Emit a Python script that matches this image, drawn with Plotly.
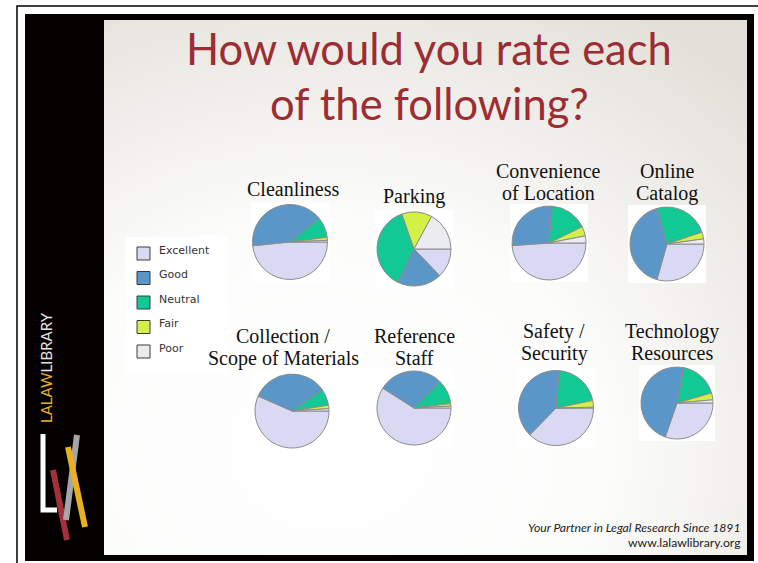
import base64
import plotly.graph_objects as go

W, H = 758, 563

# categorias e cores das fatias
categories = ["Excellent", "Good", "Neutral", "Fair", "Poor"]
colors = ["#d9d9f3", "#5b96c8", "#12c895", "#d2f046", "#ebebf0"]

cleanliness = [48.4, 40.8, 8.8, 1.3, 0.7]
parking = [12.8, 19.4, 37.5, 13.2, 17.1]
convenience = [48.9, 27.5, 16.4, 4.1, 3.1]
online_catalog = [29.4, 41.2, 24.2, 3.0, 2.2]
collection = [56.6, 33.8, 7.1, 1.5, 1.0]
reference_staff = [59.0, 28.6, 10.5, 1.1, 0.8]
safety = [37.3, 39.2, 20.3, 2.9, 0.3]
technology = [30.3, 47.8, 17.4, 3.1, 1.4]

titles = [
    ["Cleanliness"],
    ["Parking"],
    ["Convenience", "of Location"],
    ["Online", "Catalog"],
    ["Collection /", "Scope of Materials"],
    ["Reference", "Staff"],
    ["Safety /", "Security"],
    ["Technology", "Resources"],
]
series = [cleanliness, parking, convenience, online_catalog,
          collection, reference_staff, safety, technology]

# posicao em pixels: centro x, centro y, raio, x do titulo, y da primeira linha do titulo
positions = [
    (290, 242, 37.5, 293, 189),
    (414, 249, 37, 414, 196),
    (549, 243, 37, 548, 171),
    (667, 244, 37, 667, 171),
    (292, 411, 37, 283, 336),
    (414, 408, 37, 414, 336),
    (556, 408, 37.5, 554, 331),
    (677, 403, 36, 672, 331),
]

fig = go.Figure()

shapes = []
annotations = []

# caixas brancas atras das pizzas
for (cx, cy, r, tx, ty) in positions:
    shapes.append(dict(type="rect", x0=cx - r - 2, x1=cx + r + 2, y0=cy - r - 2, y1=cy + r + 2,
                       fillcolor="white", line=dict(width=0), layer="below"))

for vals, tit, (cx, cy, r, tx, ty) in zip(series, titles, positions):
    fig.add_trace(go.Pie(
        labels=categories,
        values=vals,
        domain=dict(x=[(cx - r) / W, (cx + r) / W], y=[1 - (cy + r) / H, 1 - (cy - r) / H]),
        marker=dict(colors=colors, line=dict(color="#8c8c8c", width=1)),
        sort=False,
        direction="clockwise",
        rotation=90,
        textinfo="none",
        hoverinfo="label+percent",
        showlegend=False,
    ))
    for i, linha in enumerate(tit):
        annotations.append(dict(x=tx, y=ty + i * 22, text=linha, showarrow=False,
                                xanchor="center", yanchor="middle",
                                font=dict(family="Liberation Serif", size=20, color="#111111")))

# moldura preta e barra lateral
shapes += [
    dict(type="path", path="M 17,563 L 17,6 L 758,6", line=dict(color="black", width=1.5), layer="below"),
    dict(type="rect", x0=25, x1=104, y0=14, y1=561, fillcolor="#050000", line=dict(width=0), layer="below"),
    dict(type="rect", x0=25, x1=754, y0=14, y1=20, fillcolor="#050000", line=dict(width=0), layer="below"),
    dict(type="rect", x0=747, x1=754, y0=14, y1=561, fillcolor="#050000", line=dict(width=0), layer="below"),
    dict(type="rect", x0=25, x1=754, y0=555, y1=561, fillcolor="#050000", line=dict(width=0), layer="below"),
]

# logo
shapes += [
    dict(type="path", path="M 43,434 L 43,510 L 57,510", line=dict(color="white", width=5), layer="above"),
    dict(type="line", x0=53, y0=470, x1=67, y1=540, line=dict(color="#a3303b", width=6)),
    dict(type="line", x0=77, y0=435, x1=66, y1=520, line=dict(color="#a6a6a8", width=6)),
    dict(type="line", x0=68, y0=447, x1=85, y1=527, line=dict(color="#e9b121", width=6)),
]

# legenda desenhada a mao
shapes.append(dict(type="rect", x0=125, x1=228, y0=237, y1=374, fillcolor="white",
                   line=dict(width=0), layer="below"))
for i, (cat, cor) in enumerate(zip(categories, colors)):
    y = 253 + i * 24.5
    shapes.append(dict(type="rect", x0=137, x1=150, y0=y - 6, y1=y + 7, fillcolor=cor,
                       line=dict(color="#3a3a3a", width=1)))
    annotations.append(dict(x=157, y=y - 3, text=cat, showarrow=False, xanchor="left", yanchor="middle",
                            font=dict(family="DejaVu Sans", size=11, color="#333333")))

# titulo
annotations += [
    dict(x=429, y=48, text="How would you rate each", showarrow=False, xanchor="center", yanchor="middle",
         font=dict(family="Lato", size=43.5, color="#9c2d33")),
    dict(x=429, y=103, text="of the following?", showarrow=False, xanchor="center", yanchor="middle",
         font=dict(family="Lato", size=43.5, color="#9c2d33")),
]

# rodape
annotations += [
    dict(x=743, y=527, text="<i>Your Partner in Legal Research Since 1891</i>", showarrow=False,
         xanchor="right", yanchor="middle", font=dict(family="Lato", size=12.2, color="#222222")),
    dict(x=743, y=542, text="www.lalawlibrary.org", showarrow=False,
         xanchor="right", yanchor="middle", font=dict(family="Lato", size=12.2, color="#222222")),
]

# texto vertical da barra lateral
annotations.append(dict(x=46, y=368, textangle=-90, showarrow=False, xanchor="center", yanchor="middle",
                        text="<span style='color:#e9b121'>LALAW</span>LIBRARY",
                        font=dict(family="Lato", size=15, color="#e6e6e6")))

# fundo em gradiente (svg embutido)
svg = (
    '<svg xmlns="http://www.w3.org/2000/svg" width="643" height="535">'
    '<defs><radialGradient id="g" cx="0.35" cy="0.8" r="0.95">'
    '<stop offset="0" stop-color="#ffffff"/>'
    '<stop offset="0.45" stop-color="#fcfcfb"/>'
    '<stop offset="1" stop-color="#e3e0d9"/>'
    '</radialGradient></defs>'
    '<rect width="643" height="535" fill="url(#g)"/></svg>'
)
fonte_svg = "data:image/svg+xml;base64," + base64.b64encode(svg.encode()).decode()

for s in shapes:
    s.setdefault("xref", "x")
    s.setdefault("yref", "y")
for a in annotations:
    a.setdefault("xref", "x")
    a.setdefault("yref", "y")

fig.update_layout(
    width=W,
    height=H,
    margin=dict(l=0, r=0, t=0, b=0),
    paper_bgcolor="white",
    plot_bgcolor="rgba(0,0,0,0)",
    xaxis=dict(range=[0, W], visible=False, fixedrange=True),
    yaxis=dict(range=[H, 0], visible=False, fixedrange=True),
    shapes=shapes,
    annotations=annotations,
    images=[dict(source=fonte_svg, xref="paper", yref="paper", x=104 / W, y=1 - 20 / H,
                 sizex=643 / W, sizey=535 / H, xanchor="left", yanchor="top",
                 sizing="stretch", layer="below")],
)

# tira a margem padrao do body para a figura ocupar a janela toda
fig.write_html("out.html", config={"displayModeBar": False},
               post_script="document.body.style.margin='0';")
